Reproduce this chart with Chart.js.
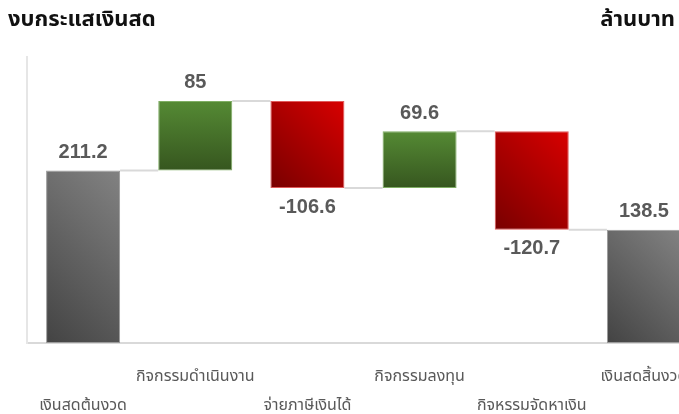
<!DOCTYPE html>
<html>
<head>
<meta charset="utf-8">
<script src="https://cdn.jsdelivr.net/npm/chart.js@4.4.1/dist/chart.umd.min.js"></script>
<style>
    html, body { margin: 0; padding: 0; background: #fff; }
    #wrap { position: relative; width: 679px; height: 414px; overflow: hidden; }
    #chart { position: absolute; left: 0; top: 0; }
    .title { position: absolute; top: 3px; font: bold 22px "Noto Sans Thai", Tahoma, "DejaVu Sans", sans-serif; color: #111; }
</style>
</head>
<body>
<div id="wrap">
    <canvas id="chart" width="720" height="414"></canvas>
    <div class="title" style="left: 8px;">งบกระแสเงินสด</div>
    <div class="title" style="right: 4px;">ล้านบาท</div>
</div>
<script>
// Cash flow waterfall
const categories = ['เงินสดต้นงวด', 'กิจกรรมดำเนินงาน', 'จ่ายภาษีเงินได้', 'กิจกรรมลงทุน', 'กิจหรรมจัดหาเงิน', 'เงินสดสิ้นงวด'];
const changes = [211.2, 85, -106.6, 69.6, -120.7, 138.5];
const kinds = ['total', 'up', 'down', 'up', 'down', 'total'];
const yMin = 0;
const yMax = 350;

// floating bar ranges from the running total
const ranges = [];
let running = 0;
changes.forEach((v, i) => {
    if (kinds[i] === 'total') {
        ranges.push([0, v]);
        running = v;
    } else {
        ranges.push([running, running + v]);
        running += v;
    }
});

function barBox(chart, i) {
    const xs = chart.scales.x, ys = chart.scales.y;
    const w = (xs.width / categories.length) * 0.66;
    const cx = xs.getPixelForValue(i);
    const lo = Math.min(ranges[i][0], ranges[i][1]);
    const hi = Math.max(ranges[i][0], ranges[i][1]);
    return { left: cx - w / 2, right: cx + w / 2, top: ys.getPixelForValue(hi), bottom: ys.getPixelForValue(lo) };
}

function barFill(context) {
    const chart = context.chart;
    if (!chart.chartArea) return '#777';
    const i = context.dataIndex;
    const b = barBox(chart, i);
    const ctx = chart.ctx;
    let g;
    if (kinds[i] === 'up') {
        g = ctx.createLinearGradient(0, b.top, 0, b.bottom);
        g.addColorStop(0, '#558a34');
        g.addColorStop(1, '#36561f');
    } else {
        // 45 degree gradient, dark bottom-left to light top-right
        const d = ((b.right - b.left) + (b.bottom - b.top)) / 2;
        g = ctx.createLinearGradient(b.left, b.bottom, b.left + d, b.bottom - d);
        if (kinds[i] === 'down') {
            g.addColorStop(0, '#780000');
            g.addColorStop(1, '#d80000');
        } else {
            g.addColorStop(0, '#434343');
            g.addColorStop(1, '#828282');
        }
    }
    return g;
}

const borderColors = { up: '#7fae63', down: '#e05a5a', total: '#9a9a9a' };

const waterfallExtras = {
    id: 'waterfallExtras',
    beforeDatasetsDraw(chart) {
        const ctx = chart.ctx;
        ctx.save();
        ctx.strokeStyle = '#d9d9d9';
        ctx.lineWidth = 2;
        for (let i = 0; i < ranges.length - 1; i++) {
            const b1 = barBox(chart, i), b2 = barBox(chart, i + 1);
            const y = chart.scales.y.getPixelForValue(ranges[i][1]);
            ctx.beginPath();
            ctx.moveTo(b1.right, y);
            ctx.lineTo(b2.left, y);
            ctx.stroke();
        }
        ctx.restore();
    },
    afterDatasetsDraw(chart) {
        const ctx = chart.ctx;
        const xs = chart.scales.x;
        const area = chart.chartArea;
        ctx.save();
        // value labels
        ctx.font = 'bold 20px "Liberation Sans", Arial, sans-serif';
        ctx.fillStyle = '#595959';
        ctx.textAlign = 'center';
        ctx.textBaseline = 'middle';
        changes.forEach((v, i) => {
            const b = barBox(chart, i);
            const cx = xs.getPixelForValue(i);
            if (kinds[i] === 'down') {
                ctx.fillText(String(v), cx, b.bottom + 19);
            } else {
                ctx.fillText(String(v), cx, b.top - 18);
            }
        });
        // staggered category labels
        ctx.font = '16px "Noto Sans Thai", Tahoma, "DejaVu Sans", sans-serif';
        ctx.fillStyle = '#595959';
        categories.forEach((c, i) => {
            const cx = xs.getPixelForValue(i);
            const y = i % 2 === 1 ? area.bottom + 35 : area.bottom + 64;
            ctx.fillText(c, cx, y);
        });
        ctx.restore();
    }
};

new Chart(document.getElementById('chart').getContext('2d'), {
    type: 'bar',
    data: {
        labels: categories,
        datasets: [{
            data: ranges,
            backgroundColor: barFill,
            borderColor: kinds.map(k => borderColors[k]),
            borderWidth: 1,
            borderSkipped: false,
            categoryPercentage: 1,
            barPercentage: 0.66
        }]
    },
    options: {
        responsive: false,
        animation: false,
        layout: { padding: { left: 27, right: 20, top: 57, bottom: 71 } },
        plugins: {
            legend: { display: false },
            tooltip: { enabled: false }
        },
        scales: {
            x: {
                ticks: { display: false },
                grid: { display: false, drawTicks: false },
                border: { display: true, color: '#d9d9d9', width: 2 }
            },
            y: {
                min: yMin,
                max: yMax,
                ticks: { display: false },
                grid: { display: false, drawTicks: false },
                border: { display: true, color: '#e6e6e6', width: 2 }
            }
        }
    },
    plugins: [waterfallExtras]
});
</script>
</body>
</html>
